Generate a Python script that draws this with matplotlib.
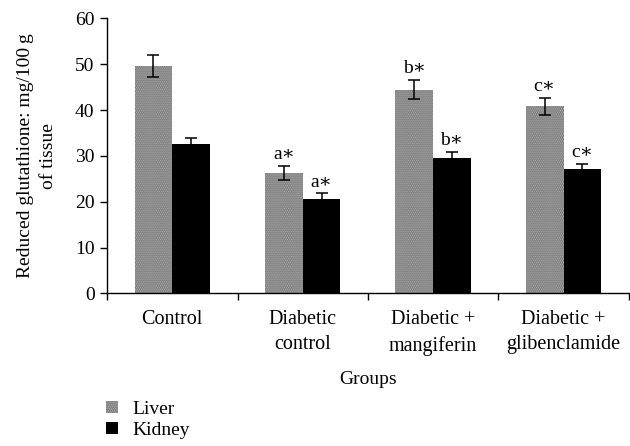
import matplotlib
matplotlib.use("Agg")
import matplotlib.pyplot as plt
import numpy as np
from matplotlib.patches import Patch

plt.rcParams['font.family'] = ['Liberation Serif', 'DejaVu Serif']
plt.rcParams['hatch.linewidth'] = 1.1

groups = ["Control", "Diabetic\ncontrol", "Diabetic +\nmangiferin", "Diabetic +\nglibenclamide"]
liver = [49.6, 26.3, 44.4, 40.8]
liver_err = [2.4, 1.5, 2.1, 1.8]
kidney = [32.6, 20.7, 29.5, 27.1]
kidney_err = [1.3, 1.1, 1.4, 1.1]
liver_marks = ["", "a*", "b*", "c*"]
kidney_marks = ["", "a*", "b*", "c*"]
yticks = [0, 10, 20, 30, 40, 50, 60]

FS = 14
LIVER_FACE = '#5e5e5e'
LIVER_DOTS = '#bdbdbd'
LIVER_HATCH = '........'

fig = plt.figure(figsize=(6.3, 4.46), dpi=100)
ax = fig.add_axes([0.170, 0.342, 0.828, 0.617])

x = np.arange(len(groups)) + 0.5
w = 0.289

ax.bar(x - w / 2, liver, w, color=LIVER_FACE, hatch=LIVER_HATCH,
       edgecolor=LIVER_DOTS, linewidth=0)
ax.bar(x + w / 2, kidney, w, color='black', linewidth=0)
ax.errorbar(x - w / 2, liver, yerr=liver_err, fmt='none', ecolor='black',
            elinewidth=1.1, capsize=4.5, capthick=1.1)
ax.errorbar(x + w / 2, kidney, yerr=kidney_err, fmt='none', ecolor='black',
            elinewidth=1.1, capsize=4.5, capthick=1.1)

for xs, vals, errs, marks in [(x - w / 2, liver, liver_err, liver_marks),
                              (x + w / 2, kidney, kidney_err, kidney_marks)]:
    for xi, v, e, m in zip(xs, vals, errs, marks):
        if m:
            ax.annotate(m.replace('*', '\u2217'), (xi, v + e), xytext=(0, 2),
                        textcoords='offset points', ha='center', va='bottom', fontsize=FS)

ax.set_xlim(0, len(groups))
ax.set_ylim(0, 60)
ax.set_yticks(yticks)
ax.set_yticklabels([str(t) for t in yticks], fontsize=FS)
ax.set_xticks(np.arange(len(groups) + 1))
ax.set_xticklabels([])
ax.set_xticks(x, minor=True)
ax.set_xticklabels(groups, minor=True, fontsize=14.5, linespacing=1.45)
ax.tick_params(axis='x', which='minor', length=0, pad=12)
ax.tick_params(axis='x', which='major', length=5, width=1, direction='out')
ax.tick_params(axis='y', length=5, width=1, direction='out', pad=4)

for s in ['top', 'right']:
    ax.spines[s].set_visible(False)
for s in ['left', 'bottom']:
    ax.spines[s].set_linewidth(1)

ax.set_xlabel("Groups", fontsize=FS, labelpad=11)
ax.set_ylabel("Reduced glutathione: mg/100\u2009g\nof tissue", fontsize=FS,
              linespacing=1.45, labelpad=13)

handles = [Patch(facecolor=LIVER_FACE, hatch=LIVER_HATCH, edgecolor=LIVER_DOTS, linewidth=0, label='Liver'),
           Patch(facecolor='black', linewidth=0, label='Kidney')]
fig.legend(handles=handles, loc='upper left', bbox_to_anchor=(0.168, 0.1015),
           bbox_transform=fig.transFigure, frameon=False, fontsize=FS,
           handlelength=0.6, handleheight=0.6, handletextpad=0.75, labelspacing=0.2,
           borderaxespad=0, borderpad=0)

fig.savefig("out.png", dpi=100)
